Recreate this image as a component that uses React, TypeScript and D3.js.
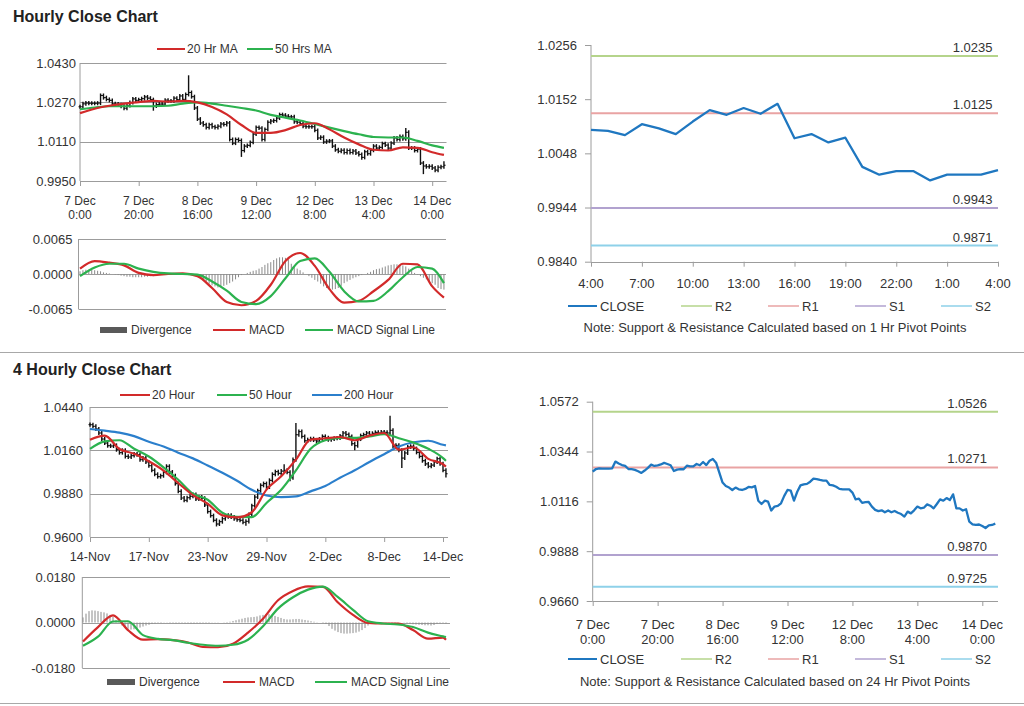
import * as d3 from 'd3';
import { useEffect, useRef } from 'react';

type G = d3.Selection<SVGGElement, unknown, null, undefined>;
type Scale = d3.ScaleLinear<number, number>;

const FONT = '"Liberation Sans", Arial, Helvetica, sans-serif';
const TEXT = '#333333';
const GRID = '#9c9c9c';
const RED = '#d22a2a';
const GREEN = '#2cb24f';
const BLUE = '#2b7fcc';
const CLOSE_BLUE = '#1f77c0';
const DIV_GREY = '#8a8a8a';
const BOX_GREY = '#595959';

// ---------- hourly data (7 Dec 0:00 .. 14 Dec 4:00, one value per bar) ----------
const hourlyClose = [
  1.0252, 1.0264, 1.0267, 1.0266, 1.0266, 1.0266, 1.0267, 1.0298, 1.0289, 1.0282,
  1.0278, 1.0264, 1.0263, 1.0260, 1.0254, 1.0246, 1.0257, 1.0269, 1.0284, 1.0278,
  1.0281, 1.0285, 1.0292, 1.0287, 1.0281, 1.0255, 1.0261, 1.0263, 1.0263, 1.0279,
  1.0276, 1.0276, 1.0287, 1.0281, 1.0296, 1.0282, 1.0302, 1.0310, 1.0293, 1.0247,
  1.0202, 1.0186, 1.0179, 1.0168, 1.0179, 1.0171, 1.0168, 1.0173, 1.0182, 1.0180,
  1.0186, 1.0119, 1.0104, 1.0119, 1.0115, 1.0074, 1.0092, 1.0095, 1.0107, 1.0141,
  1.0168, 1.0165, 1.0119, 1.0160, 1.0189, 1.0194, 1.0196, 1.0206, 1.0220, 1.0218,
  1.0214, 1.0211, 1.0211, 1.0191, 1.0189, 1.0183, 1.0173, 1.0171, 1.0171, 1.0171,
  1.0156, 1.0125, 1.0128, 1.0109, 1.0112, 1.0113, 1.0092, 1.0077, 1.0071, 1.0075,
  1.0066, 1.0074, 1.0066, 1.0072, 1.0064, 1.0058, 1.0046, 1.0069, 1.0061, 1.0075,
  1.0092, 1.0084, 1.0087, 1.0102, 1.0096, 1.0084, 1.0104, 1.0125, 1.0119, 1.0131,
  1.0122, 1.0148, 1.0084, 1.0084, 1.0074, 1.0080, 1.0023, 1.0011, 1.0008, 1.0010,
  1.0003, 0.9994, 1.0006, 1.0008, 1.0014,
];
// long wicks [bar, price]
const hourlyHighs: [number, number][] = [[37, 1.038], [111, 1.0166], [124, 1.003]];
const hourlyLows: [number, number][] = [[25, 1.0236], [55, 1.0048], [96, 1.0036], [117, 0.9978]];

const hourlyTickDays = ['7 Dec', '7 Dec', '8 Dec', '9 Dec', '12 Dec', '13 Dec', '14 Dec'];
const hourlyTickTimes = ['0:00', '20:00', '16:00', '12:00', '8:00', '4:00', '0:00'];

// indicator values read every 5 bars (last one at the final bar)
const hourlyIdx = [0, 5, 10, 15, 20, 25, 30, 35, 40, 45, 50, 55, 60, 65, 70, 75, 80, 85, 90, 95, 100, 105, 110, 115, 120, 124];
const hourlyMA20 = [
  1.0226, 1.0244, 1.0256, 1.0265, 1.0271, 1.0276, 1.0273, 1.0276, 1.0270, 1.0251, 1.0221, 1.0178, 1.0146,
  1.0146, 1.0157, 1.0178, 1.0185, 1.0160, 1.0127, 1.0099, 1.0077, 1.0074, 1.0087, 1.0085, 1.0067, 1.0056,
];
const hourlyMA50 = [
  1.0242, 1.0249, 1.0254, 1.0254, 1.0254, 1.0254, 1.0256, 1.0265, 1.0270, 1.0265, 1.0256, 1.0247, 1.0237,
  1.0219, 1.0208, 1.0196, 1.0182, 1.0167, 1.0153, 1.0140, 1.0129, 1.0127, 1.0127, 1.0113, 1.0095, 1.0085,
];
const hourlyMacd = [
  0.001, 0.0024, 0.0021, 0.0016, 0.0002, -0.0002, 0.0, 0.0001, -0.0004, -0.0026, -0.0052, -0.0058, -0.005,
  -0.002, 0.0024, 0.0039, 0.0015, -0.0028, -0.0053, -0.005, -0.0032, -0.0011, 0.0019, 0.0018, -0.0023, -0.0044,
];
const hourlySignal = [
  -0.0004, 0.0012, 0.0019, 0.0019, 0.001, 0.0004, 0.0001, 0.0, -0.0001, -0.0014, -0.0031, -0.0052, -0.0056,
  -0.0041, -0.0008, 0.0024, 0.0029, 0.0004, -0.0032, -0.0051, -0.005, -0.0032, -0.0006, 0.0013, 0.001, -0.0017,
];
// divergence per bar, in units of 0.0001
const hourlyDiv = [
  5, 7, 8, 8, 8, 7, 6, 5, 3, 2,
  1, 0, -1, -2, -3, -4, -5, -5, -6, -6,
  -6, -6, -5, -5, -4, -4, -3, -2, -2, -1,
  -1, 0, 0, 1, 1, 1, 0, 0, -1, -2,
  -4, -7, -10, -14, -18, -21, -23, -25, -24, -22,
  -20, -17, -14, -10, -6, -2, 0, 2, 4, 6,
  7, 10, 13, 17, 20, 22, 26, 29, 31, 31,
  30, 27, 19, 14, 10, 7, 3, 0, -4, -7,
  -11, -14, -18, -23, -26, -29, -29, -28, -26, -22,
  -17, -14, -11, -8, -6, -4, -2, 0, 2, 4,
  7, 9, 10, 12, 14, 16, 17, 18, 18, 17,
  16, 14, 10, 6, 2, -1, -4, -7, -10, -13,
  -17, -20, -26, -28, -29,
];

// ---------- last 24 hours, 1 Hr pivots ----------
const pivotClose = [
  1.0093, 1.0091, 1.0083, 1.0104, 1.0096, 1.0085, 1.0109, 1.0131, 1.0122, 1.0135, 1.0124, 1.0143, 1.0077,
  1.0085, 1.0069, 1.0078, 1.0022, 1.0007, 1.0014, 1.0014, 0.9996, 1.0007, 1.0007, 1.0007, 1.0016,
];
const pivotTickLabels = ['4:00', '7:00', '10:00', '13:00', '16:00', '19:00', '22:00', '1:00', '4:00'];
const pivotNames = ['R2', 'R1', 'S1', 'S2'];
const pivotColors = ['#b5d48b', '#e9a3a3', '#b1a2cf', '#8ed1e9'];
const pivots1h = [1.0235, 1.0125, 0.9943, 0.9871];
const pivots24h = [1.0526, 1.0271, 0.987, 0.9725];

// ---------- 4 hourly data ----------
const fourClose = [
  1.0326, 1.0315, 1.0298, 1.0272, 1.0233, 1.0207, 1.0190, 1.0188, 1.0192, 1.0164,
  1.0145, 1.0160, 1.0121, 1.0117, 1.0126, 1.0136, 1.0132, 1.0100, 1.0110, 1.0085,
  1.0061, 1.0031, 1.0005, 0.9990, 0.9996, 1.0018, 1.0057, 1.0020, 0.9996, 0.9945,
  0.9895, 0.9852, 0.9837, 0.9854, 0.9863, 0.9874, 0.9846, 0.9858, 0.9850, 0.9807,
  0.9764, 0.9738, 0.9708, 0.9684, 0.9699, 0.9718, 0.9731, 0.9740, 0.9729, 0.9718,
  0.9712, 0.9708, 0.9695, 0.9701, 0.9746, 0.9802, 0.9858, 0.9899, 0.9934, 0.9945,
  0.9923, 0.9966, 1.0005, 1.0022, 1.0011, 1.0026, 1.0031, 1.0018, 0.9983, 1.0100,
  1.0261, 1.0281, 1.0250, 1.0222, 1.0229, 1.0235, 1.0227, 1.0220, 1.0233, 1.0250,
  1.0242, 1.0229, 1.0233, 1.0238, 1.0240, 1.0253, 1.0272, 1.0263, 1.0250, 1.0203,
  1.0190, 1.0233, 1.0255, 1.0261, 1.0272, 1.0263, 1.0270, 1.0276, 1.0272, 1.0278,
  1.0276, 1.0272, 1.0289, 1.0186, 1.0192, 1.0160, 1.0110, 1.0143, 1.0182, 1.0186,
  1.0171, 1.0147, 1.0121, 1.0093, 1.0072, 1.0057, 1.0065, 1.0085, 1.0106, 1.0074,
  1.0031, 1.0009,
];
const fourHighs: [number, number][] = [[0, 1.034], [66, 1.007], [70, 1.0337], [102, 1.0384]];
const fourLows: [number, number][] = [[43, 0.9668], [53, 0.9672], [68, 0.996], [90, 1.016], [106, 1.0046], [121, 0.9985]];
const fourTickLabels = ['14-Nov', '17-Nov', '23-Nov', '29-Nov', '2-Dec', '8-Dec', '14-Dec'];

const fourIdx = [0, 5, 10, 15, 20, 25, 30, 35, 40, 45, 50, 55, 60, 65, 70, 75, 80, 85, 90, 95, 100, 105, 110, 115, 120, 121];
const fourMA20 = [
  1.0229, 1.0255, 1.0169, 1.0138, 1.0089, 1.0029, 0.9949, 0.987, 0.9815, 0.974, 0.9727, 0.976, 0.9906,
  0.9992, 1.01, 1.0229, 1.0238, 1.0246, 1.0225, 1.0255, 1.0272, 1.0164, 1.018, 1.0105, 1.007, 1.0055,
];
const fourMA50 = [
  1.0169, 1.0218, 1.0225, 1.017, 1.012, 1.005, 0.997, 0.988, 0.9841, 0.9757, 0.973, 0.9729, 0.982,
  0.9905, 1.003, 1.017, 1.0225, 1.024, 1.024, 1.025, 1.0265, 1.0238, 1.021, 1.017, 1.011, 1.0092,
];
const fourMA200 = [
  1.0298, 1.0287, 1.0274, 1.0252, 1.0215, 1.0185, 1.0145, 1.0108, 1.0062, 1.0015, 0.9963, 0.9905, 0.9868,
  0.9858, 0.9862, 0.9895, 0.993, 0.9983, 1.0031, 1.0085, 1.0135, 1.0185, 1.0212, 1.0222, 1.0196, 1.0192,
];
const fourMacd = [
  -0.0075, -0.0018, 0.0028, -0.003, -0.0068, -0.0066, -0.007, -0.0079, -0.0097, -0.0098, -0.0084, -0.004, 0.0015,
  0.0088, 0.0125, 0.0143, 0.0141, 0.0079, 0.003, -0.0002, -0.0004, -0.0004, -0.003, -0.0064, -0.006, -0.0068,
];
const fourSignal = [
  -0.0092, -0.0056, 0.0004, 0.0005, -0.005, -0.0065, -0.007, -0.008, -0.0088, -0.0092, -0.0088, -0.0068, -0.0015,
  0.0055, 0.01, 0.013, 0.0142, 0.01, 0.005, 0.0005, -0.0004, -0.0008, -0.0018, -0.004, -0.0055, -0.0058,
];
const fourDiv = [
  20, 35, 45, 48, 47, 45, 42, 40, 36, 30,
  22, 10, -2, -12, -20, -25, -28, -27, -24, -20,
  -16, -12, -9, -6, -4, -2, -2, -1, -1, -2,
  -2, -3, -2, -2, -3, -3, -4, -4, -3, -3,
  -2, -2, -2, -1, -1, -1, 0, 1, 2, 3,
  6, 9, 12, 15, 18, 20, 21, 22, 24, 28,
  30, 32, 33, 30, 26, 22, 18, 14, 12, 12,
  13, 14, 14, 12, 10, 8, 5, 3, 1, 0,
  -2, -6, -14, -25, -32, -38, -42, -44, -44, -43,
  -42, -40, -36, -30, -22, -12, -3, -2, -1, -1,
  0, 1, 1, 2, 2, 1, 0, -1, -3, -5,
  -7, -8, -9, -10, -11, -11, -12, -10, -6, -3,
  -2, -4,
];

// ---------- helpers ----------
const fmt = (d: d3.NumberValue) => (+d).toFixed(4);

function txt(g: G, x: number, y: number, s: string, size = 12, anchor = 'start') {
  return g.append('text').attr('x', x).attr('y', y).attr('font-family', FONT).attr('font-size', size)
    .attr('fill', TEXT).attr('text-anchor', anchor).text(s);
}

function hline(g: G, x1: number, x2: number, y: number, color = GRID, w = 1) {
  g.append('line').attr('x1', x1).attr('x2', x2).attr('y1', y).attr('y2', y).attr('stroke', color).attr('stroke-width', w);
}

function frame(g: G, x0: number, x1: number, y: Scale, ticks: number[], grid: number[], tickSize: number, pad: number) {
  grid.forEach(v => hline(g, x0, x1, Math.round(y(v)) + 0.5));
  const lo = d3.min(ticks)!, hi = d3.max(ticks)!;
  hline(g, x0, x1, Math.round(y(lo)) + 0.5);
  g.append('line').attr('x1', x0).attr('x2', x0).attr('y1', y(hi)).attr('y2', y(lo)).attr('stroke', GRID);
  const ax = g.append('g').attr('transform', `translate(${x0},0)`)
    .call(d3.axisLeft(y).tickValues(ticks).tickSize(tickSize).tickSizeOuter(0).tickPadding(pad).tickFormat(fmt));
  ax.select('.domain').remove();
  ax.selectAll('line').attr('stroke', GRID);
  ax.selectAll('text').attr('font-family', FONT).attr('font-size', 13).attr('fill', TEXT);
}

function xTicks(g: G, x: Scale, y: number, values: number[], size = 5) {
  const ax = g.append('g').attr('transform', `translate(0,${y})`)
    .call(d3.axisBottom(x).tickValues(values).tickSize(size).tickSizeOuter(0).tickFormat(() => ''));
  ax.select('.domain').remove();
  ax.selectAll('line').attr('stroke', GRID);
}

function twoLineLabels(g: G, xs: number[], top: string[], bottom: string[], y1: number, y2: number, size = 12) {
  xs.forEach((x, k) => {
    const t = g.append('text').attr('font-family', FONT).attr('font-size', size).attr('fill', TEXT).attr('text-anchor', 'middle');
    t.append('tspan').attr('x', x).attr('y', y1).text(top[k]);
    t.append('tspan').attr('x', x).attr('y', y2).text(bottom[k]);
  });
}

function ohlc(g: G, x: Scale, y: Scale, close: number[], wick: number, highs: [number, number][], lows: [number, number][]) {
  const hi = new Map(highs), lo = new Map(lows);
  const bars = close.map((c, i) => {
    const o = i > 0 ? close[i - 1] : c;
    return { i, o, c, h: hi.get(i) ?? Math.max(o, c) + wick, l: lo.get(i) ?? Math.min(o, c) - wick };
  });
  const b = g.append('g').attr('stroke', '#111');
  b.selectAll('line.hl').data(bars).enter().append('line').attr('class', 'hl')
    .attr('x1', d => x(d.i)).attr('x2', d => x(d.i)).attr('y1', d => y(d.h)).attr('y2', d => y(d.l)).attr('stroke-width', 1.4);
  b.selectAll('line.op').data(bars).enter().append('line').attr('class', 'op')
    .attr('x1', d => x(d.i) - 1.5).attr('x2', d => x(d.i)).attr('y1', d => y(d.o)).attr('y2', d => y(d.o)).attr('stroke-width', 1);
  b.selectAll('line.cl').data(bars).enter().append('line').attr('class', 'cl')
    .attr('x1', d => x(d.i)).attr('x2', d => x(d.i) + 1.6).attr('y1', d => y(d.c)).attr('y2', d => y(d.c)).attr('stroke-width', 1.2);
}

function series(g: G, idx: number[], vals: number[], x: Scale, y: Scale, color: string, w = 2, smooth = true) {
  const line = d3.line<number>().x((_, k) => x(idx[k])).y(v => y(v)).curve(smooth ? d3.curveMonotoneX : d3.curveLinear);
  g.append('path').attr('d', line(vals)).attr('fill', 'none').attr('stroke', color).attr('stroke-width', w)
    .attr('stroke-linejoin', 'round');
}

function divergence(g: G, vals: number[], x: Scale, y: Scale) {
  g.append('g').selectAll('line').data(vals).enter().append('line')
    .attr('x1', (_, i) => x(i)).attr('x2', (_, i) => x(i))
    .attr('y1', y(0)).attr('y2', d => y(d / 10000))
    .attr('stroke', DIV_GREY).attr('stroke-width', 1);
}

interface LegendItem { x: number; w: number; color: string; label: string; box?: boolean; sw?: number }
function legend(g: G, y: number, items: LegendItem[], gap = 3, size = 12) {
  items.forEach(it => {
    if (it.box) g.append('rect').attr('x', it.x).attr('y', y - 3).attr('width', it.w).attr('height', 6).attr('fill', it.color);
    else hline(g, it.x, it.x + it.w, y, it.color, it.sw ?? 2);
    txt(g, it.x + it.w + gap, y, it.label, size).attr('dy', '0.35em');
  });
}

function pivotPanel(g: G, x: Scale, y: Scale, x0: number, x1: number, ticks: number[], levels: number[], labelX: number,
  closeIdx: number[], close: number[]) {
  frame(g, x0, x1, y, ticks, [], 6, 8);
  levels.forEach((v, k) => {
    hline(g, x0, x1, y(v), pivotColors[k], 2);
    txt(g, labelX, y(v) - 4, fmt(v), 13, 'end');
  });
  series(g, closeIdx, close, x, y, CLOSE_BLUE, 2.3, false);
}

const App = () => {
  const ref = useRef<SVGSVGElement>(null);

  useEffect(() => {
    const svg = d3.select(ref.current);
    svg.selectAll('*').remove();
    svg.append('rect').attr('width', 1024).attr('height', 706).attr('fill', '#fff');
    const g = svg.append('g') as unknown as G;

    // titles and separators
    txt(g, 13, 21.5, 'Hourly Close Chart', 16).attr('font-weight', 'bold').attr('fill', '#222');
    txt(g, 13, 375, '4 Hourly Close Chart', 16).attr('font-weight', 'bold').attr('fill', '#222');
    hline(g, 0, 1024, 352.5, '#a8a8a8');
    hline(g, 0, 1024, 703.5, '#a8a8a8');

    const every20 = d3.range(0, 121, 20);

    // ----- A: hourly bars with moving averages -----
    const xA = d3.scaleLinear().domain([0, 120]).range([80, 432.2]);
    const yA = d3.scaleLinear().domain([0.995, 1.043]).range([181, 63]);
    frame(g, 80, 446.5, yA, [0.995, 1.011, 1.027, 1.043], [1.011, 1.027, 1.043], 0, 4);
    xTicks(g, xA, 181, every20);
    twoLineLabels(g, every20.map(xA), hourlyTickDays, hourlyTickTimes, 205, 219);
    ohlc(g, xA, yA, hourlyClose, 0.0008, hourlyHighs, hourlyLows);
    series(g, hourlyIdx, hourlyMA50, xA, yA, GREEN, 2.2);
    series(g, hourlyIdx, hourlyMA20, xA, yA, RED, 2.2);
    legend(g, 49, [
      { x: 157, w: 28, color: RED, label: '20 Hr MA' },
      { x: 247, w: 26, color: GREEN, label: '50 Hrs MA' },
    ], 2);

    // ----- B: hourly MACD -----
    const yB = d3.scaleLinear().domain([-0.0065, 0.0065]).range([309, 239]);
    frame(g, 78.5, 446, yB, [-0.0065, 0, 0.0065], [0, 0.0065], 0, 6);
    divergence(g, hourlyDiv, xA, yB);
    series(g, hourlyIdx, hourlyMacd, xA, yB, RED, 2.2);
    series(g, hourlyIdx, hourlySignal, xA, yB, GREEN, 2.2);
    legend(g, 330, [
      { x: 100, w: 27, color: BOX_GREY, label: 'Divergence', box: true },
      { x: 213, w: 32, color: RED, label: 'MACD' },
      { x: 305, w: 28, color: GREEN, label: 'MACD Signal Line' },
    ], 4);

    // ----- C: last 24 hours with 1 Hr pivots -----
    const xC = d3.scaleLinear().domain([0, 24]).range([591, 998]);
    const yC = d3.scaleLinear().domain([0.984, 1.0256]).range([261.7, 45]);
    pivotPanel(g, xC, yC, 591, 998, d3.range(5).map(k => 0.984 + k * 0.0104), pivots1h, 992.5,
      d3.range(pivotClose.length), pivotClose);
    const every3 = d3.range(0, 25, 3);
    xTicks(g, xC, 261.7, every3);
    every3.forEach((i, k) => txt(g, xC(i), 288, pivotTickLabels[k], 13, 'middle'));
    const pivLegend = (y: number) => legend(g, y, [
      { x: 568, w: 29, color: CLOSE_BLUE, label: 'CLOSE' },
      ...pivotNames.map((n, k) => ({ x: [681, 768, 855, 941][k], w: 31, color: pivotColors[k], label: n, sw: 1.5 })),
    ], 3, 13);
    pivLegend(306);
    txt(g, 775, 332, 'Note: Support & Resistance Calculated based on 1 Hr Pivot Points', 13, 'middle');

    // ----- D: 4 hourly bars with moving averages -----
    const xD = d3.scaleLinear().domain([0, 120]).range([90, 443]);
    const yD = d3.scaleLinear().domain([0.96, 1.044]).range([537, 407]);
    frame(g, 90, 448, yD, [0.96, 0.988, 1.016, 1.044], [0.988, 1.016, 1.044], 0, 7);
    xTicks(g, xD, 537, every20);
    every20.forEach((i, k) => txt(g, xD(i), 561, fourTickLabels[k], 12.5, 'middle'));
    ohlc(g, xD, yD, fourClose, 0.0013, fourHighs, fourLows);
    series(g, fourIdx, fourMA200, xD, yD, BLUE, 2.2);
    series(g, fourIdx, fourMA50, xD, yD, GREEN, 2.2);
    series(g, fourIdx, fourMA20, xD, yD, RED, 2.2);
    legend(g, 395, [
      { x: 120, w: 30, color: RED, label: '20 Hour' },
      { x: 217, w: 30, color: GREEN, label: '50 Hour' },
      { x: 312, w: 30, color: BLUE, label: '200 Hour' },
    ], 2);

    // ----- E: 4 hourly MACD -----
    const xE = d3.scaleLinear().domain([0, 120]).range([83, 443]);
    const yE = d3.scaleLinear().domain([-0.018, 0.018]).range([668, 577]);
    frame(g, 82.3, 450, yE, [-0.018, 0, 0.018], [0, 0.018], 0, 7);
    divergence(g, fourDiv, xE, yE);
    series(g, fourIdx, fourMacd, xE, yE, RED, 2.2);
    series(g, fourIdx, fourSignal, xE, yE, GREEN, 2.2);
    legend(g, 682, [
      { x: 107, w: 28, color: BOX_GREY, label: 'Divergence', box: true },
      { x: 223, w: 32, color: RED, label: 'MACD' },
      { x: 315, w: 32, color: GREEN, label: 'MACD Signal Line' },
    ], 4);

    // ----- F: hourly close with 24 Hr pivots -----
    const xF = d3.scaleLinear().domain([0, 120]).range([592.7, 982.3]);
    const yF = d3.scaleLinear().domain([0.966, 1.0572]).range([601, 401.7]);
    pivotPanel(g, xF, yF, 592.7, 998, d3.range(5).map(k => 0.966 + k * 0.0228), pivots24h, 987,
      d3.range(hourlyClose.length), hourlyClose);
    xTicks(g, xF, 601, every20);
    twoLineLabels(g, every20.map(xF), hourlyTickDays, hourlyTickTimes, 629, 644, 13);
    pivLegend(659);
    txt(g, 775, 686, 'Note: Support & Resistance Calculated based on 24 Hr Pivot Points', 13, 'middle');
  }, []);

  return <svg ref={ref} width={1024} height={706} style={{ position: 'absolute', left: 0, top: 0 }} />;
};

export default App;
